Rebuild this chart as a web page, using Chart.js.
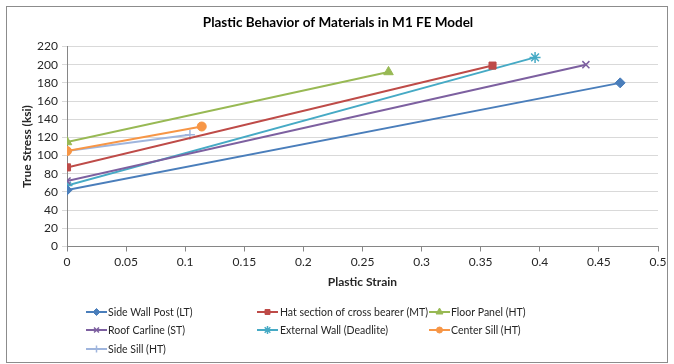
<!DOCTYPE html>
<html>
<head>
<meta charset="utf-8">
<script src="https://cdn.jsdelivr.net/npm/chart.js@4/dist/chart.umd.min.js"></script>
<style>
  html, body { margin: 0; padding: 0; background: #ffffff; }
  #wrap { position: relative; width: 674px; height: 364px; }
  canvas { display: block; }
</style>
</head>
<body>
<div id="wrap"><canvas id="chart" width="674" height="364"></canvas></div>
<script>
// Plastic strain / true stress (ksi) pairs for each material
const seriesNames = [
  'Side Wall Post (LT)',
  'Hat section of cross bearer (MT)',
  'Floor Panel (HT)',
  'Roof Carline (ST)',
  'External Wall (Deadlite)',
  'Center Sill (HT)',
  'Side Sill (HT)'
];
const sideWallPostStrain = [0, 0.468];
const sideWallPostStress = [62, 180];
const hatSectionStrain = [0, 0.36];
const hatSectionStress = [87, 199];
const floorPanelStrain = [0, 0.272];
const floorPanelStress = [115, 192];
const roofCarlineStrain = [0, 0.439];
const roofCarlineStress = [72, 200];
const externalWallStrain = [0, 0.396];
const externalWallStress = [67, 208];
const centerSillStrain = [0, 0.114];
const centerSillStress = [105, 132];
const sideSillStrain = [0, 0.104];
const sideSillStress = [105, 123];

const xTickValues = [0, 0.05, 0.1, 0.15, 0.2, 0.25, 0.3, 0.35, 0.4, 0.45, 0.5];
const yTickValues = [0, 20, 40, 60, 80, 100, 120, 140, 160, 180, 200, 220];

const FONT = 'Lato, "Open Sans", "Liberation Sans", sans-serif';
const TEXT = '#262626';

function pairs(xs, ys) {
  return xs.map((x, i) => ({ x: x, y: ys[i] }));
}

const styles = [
  { color: '#4A7EBB', pointStyle: 'rectRot', radius: 5 },
  { color: '#BE4B48', pointStyle: 'rect', radius: 5 },
  { color: '#98B954', pointStyle: 'triangle', radius: 5.5 },
  { color: '#7D60A0', pointStyle: 'crossRot', radius: 5 },
  { color: '#46AAC5', pointStyle: 'star', radius: 5.5 },
  { color: '#F79646', pointStyle: 'circle', radius: 4.5 },
  { color: '#9FB5DD', pointStyle: 'cross', radius: 5 }
];

const seriesData = [
  pairs(sideWallPostStrain, sideWallPostStress),
  pairs(hatSectionStrain, hatSectionStress),
  pairs(floorPanelStrain, floorPanelStress),
  pairs(roofCarlineStrain, roofCarlineStress),
  pairs(externalWallStrain, externalWallStress),
  pairs(centerSillStrain, centerSillStress),
  pairs(sideSillStrain, sideSillStress)
];

const datasets = seriesData.map((data, i) => ({
  label: seriesNames[i],
  data: data,
  showLine: true,
  borderColor: styles[i].color,
  backgroundColor: styles[i].color,
  borderWidth: 2,
  pointStyle: styles[i].pointStyle,
  pointRadius: styles[i].radius,
  pointBorderWidth: (styles[i].pointStyle === 'crossRot' || styles[i].pointStyle === 'cross' || styles[i].pointStyle === 'star') ? 1.5 : 1,
  pointBorderColor: styles[i].color,
  pointBackgroundColor: styles[i].color,
  tension: 0
}));

// Frame, chart title and the three-column legend under the plot
const decorations = {
  id: 'decorations',
  beforeDraw(chart) {
    const ctx = chart.ctx;
    ctx.save();
    ctx.fillStyle = '#ffffff';
    ctx.fillRect(0, 0, chart.width, chart.height);
    ctx.strokeStyle = '#8C8C8C';
    ctx.lineWidth = 1;
    ctx.strokeRect(6.5, 6.5, 661, 356);
    ctx.restore();
  },
  afterDraw(chart) {
    const ctx = chart.ctx;
    ctx.save();
    ctx.fillStyle = '#000000';
    ctx.font = 'bold 13.5px ' + FONT;
    ctx.textAlign = 'center';
    ctx.textBaseline = 'middle';
    ctx.fillText('Plastic Behavior of Materials in M1 FE Model', 338, 23);

    const colLine = [86, 257, 429];
    const colText = [108, 280, 451];
    const rowY = [312, 330, 349];
    ctx.font = '10.5px ' + FONT;
    ctx.textAlign = 'left';
    chart.data.datasets.forEach((ds, i) => {
      const c = i % 3, r = Math.floor(i / 3);
      const y = rowY[r];
      ctx.strokeStyle = ds.borderColor;
      ctx.lineWidth = 2;
      ctx.beginPath();
      ctx.moveTo(colLine[c], y);
      ctx.lineTo(colLine[c] + 21, y);
      ctx.stroke();
      if (Chart.helpers && Chart.helpers.drawPoint) {
        ctx.fillStyle = ds.pointBackgroundColor;
        ctx.strokeStyle = ds.pointBorderColor;
        ctx.lineWidth = ds.pointBorderWidth;
        Chart.helpers.drawPoint(ctx, {
          pointStyle: ds.pointStyle,
          radius: Math.max(3, ds.pointRadius - 1.5),
          rotation: 0,
          borderWidth: ds.pointBorderWidth
        }, colLine[c] + 10.5, y);
      }
      ctx.fillStyle = TEXT;
      ctx.fillText(ds.label, colText[c], y + 0.5);
    });
    ctx.restore();
  }
};

new Chart(document.getElementById('chart'), {
  type: 'scatter',
  data: { datasets: datasets },
  plugins: [decorations],
  options: {
    responsive: false,
    animation: false,
    devicePixelRatio: 1,
    layout: { padding: { left: 0, right: 16, top: 46.5, bottom: 0 } },
    plugins: {
      legend: { display: false },
      tooltip: { enabled: false },
      title: { display: false }
    },
    scales: {
      x: {
        type: 'linear',
        min: 0,
        max: 0.5,
        afterBuildTicks(scale) { scale.ticks = xTickValues.map(v => ({ value: v })); },
        afterFit(scale) { scale.height = 117.5; },
        ticks: {
          autoSkip: false,
          maxRotation: 0,
          padding: 3,
          color: TEXT,
          font: { family: FONT, size: 12 },
          callback: v => String(parseFloat(Number(v).toFixed(2)))
        },
        grid: {
          drawOnChartArea: false,
          drawTicks: true,
          tickLength: 5,
          tickColor: '#868686'
        },
        border: { display: true, color: '#868686', width: 1 },
        title: {
          display: true,
          text: 'Plastic Strain',
          color: TEXT,
          font: { family: FONT, size: 12, weight: 'bold' },
          padding: { top: 0, bottom: 75 }
        }
      },
      y: {
        type: 'linear',
        min: 0,
        max: 220,
        afterBuildTicks(scale) { scale.ticks = yTickValues.map(v => ({ value: v })); },
        afterFit(scale) { scale.width = 67; },
        ticks: {
          autoSkip: false,
          padding: 4,
          color: TEXT,
          font: { family: FONT, size: 12 }
        },
        grid: {
          color: '#D9D9D9',
          lineWidth: 1,
          drawTicks: true,
          tickLength: 5,
          tickColor: '#D9D9D9'
        },
        border: { display: true, color: '#868686', width: 1 },
        title: {
          display: true,
          text: 'True Stress (ksi)',
          color: TEXT,
          font: { family: FONT, size: 12, weight: 'bold' },
          padding: { top: 20, bottom: 0 }
        }
      }
    }
  }
});
</script>
</body>
</html>
